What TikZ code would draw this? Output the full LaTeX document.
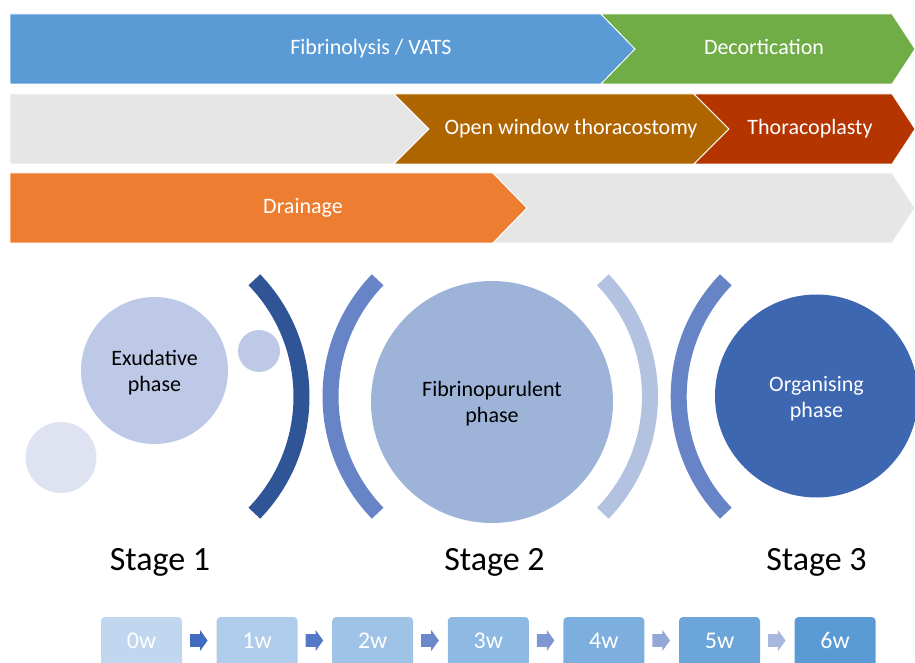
\documentclass[tikz,border=0pt]{standalone}
\usepackage{fontspec}
\setmainfont{Carlito}
\definecolor{cblue}{HTML}{5B9BD5}
\definecolor{cgreen}{HTML}{70AD47}
\definecolor{cgray}{HTML}{E6E6E6}
\definecolor{cbrown}{HTML}{AE6500}
\definecolor{cred}{HTML}{B43500}
\definecolor{corange}{HTML}{ED7D31}
\definecolor{ccirA}{HTML}{DEE2F1}
\definecolor{ccirB}{HTML}{BDC9E6}
\definecolor{ccirC}{HTML}{9DB3D8}
\definecolor{ccirD}{HTML}{3E67B1}
\definecolor{carcA}{HTML}{2F5597}
\definecolor{carcB}{HTML}{6785C6}
\definecolor{carcC}{HTML}{B4C2E2}
\definecolor{boxlo}{HTML}{C0D7EF}
\definecolor{boxhi}{HTML}{5B9BD5}
\definecolor{ar0}{HTML}{416BBF}
\definecolor{ar1}{HTML}{5679C7}
\definecolor{ar2}{HTML}{6B88CB}
\definecolor{ar3}{HTML}{7F97D1}
\definecolor{ar4}{HTML}{93A7D8}
\definecolor{ar5}{HTML}{A8B7DE}
\newcommand\fbar{\fontsize{22}{26}\selectfont}
\newcommand\fstage{\fontsize{34}{40}\selectfont}
\newcommand\fwk{\fontsize{24}{28}\selectfont}
\begin{document}
\begin{tikzpicture}[x=1pt,y=1pt,
  barshape/.style={draw=white,line width=0.8pt},
  bartext/.style={text=white,font=\fbar,inner sep=0pt,text height=15pt,text depth=5pt},
  phasetext/.style={font=\fbar,align=center,inner sep=0pt},
  arcline/.style={line width=16pt,line cap=butt},
  stagetext/.style={font=\fstage,anchor=base,inner sep=0pt},
  wktext/.style={font=\fwk,text=white,inner sep=0pt}]
\useasboundingbox (0,0) rectangle (915,662);
\clip (0,0) rectangle (915,662);
% ---- row 1
\fill[cblue,barshape] (10,648) -- (601,648) -- (635,613) -- (601,578) -- (10,578) -- cycle;
\fill[cgreen,barshape] (601,648) -- (892,648) -- (915,613) -- (892,578) -- (601,578) -- (635,613) -- cycle;
\node[bartext] (fib) at (371,612) {Fibrinolysis / VATS};
\node[bartext] (dec) at (764,612) {Decortication};
% ---- row 2
\fill[cgray,barshape] (10,568) -- (394,568) -- (429,533) -- (394,498) -- (10,498) -- cycle;
\fill[cbrown,barshape] (394,568) -- (694,568) -- (729,533) -- (694,498) -- (394,498) -- (429,533) -- cycle;
\fill[cred,barshape] (694,568) -- (892,568) -- (915,533) -- (892,498) -- (694,498) -- (729,533) -- cycle;
\node[bartext] (owt) at (571,532) {Open window thoracostomy};
\node[bartext] (thp) at (810,532) {Thoracoplasty};
% ---- row 3
\fill[corange,barshape] (10,489) -- (493,489) -- (527,454) -- (493,419) -- (10,419) -- cycle;
\fill[cgray,barshape] (493,489) -- (892,489) -- (915,454) -- (892,419) -- (493,419) -- (527,454) -- cycle;
\node[bartext] (drn) at (303,453) {Drainage};
% ---- circles
\fill[ccirA] (61,204.5) circle[radius=35.5];
\fill[ccirB] (154.5,291.5) circle[radius=73.5];
\fill[ccirB] (259,311) circle[radius=21];
\fill[ccirC] (492,260) circle[radius=121];
\fill[ccirD] (816.5,266) circle[radius=101.5];
\node[phasetext] (exu) at (154.5,289.5) {Exudative\\phase};
\node[phasetext] (fpp) at (492,258) {Fibrinopurulent\\phase};
\node[phasetext,text=white] (org) at (816.5,263.5) {Organising\\phase};
% ---- arcs
\draw[arcline,carcA] ([shift={(-44:168)}]133.5,265.5) arc[start angle=-44,end angle=44,radius=168];
\draw[arcline,carcB] ([shift={(136:168)}]498.5,265.5) arc[start angle=136,end angle=224,radius=168];
\draw[arcline,carcC] ([shift={(-44:168)}]482,265.5) arc[start angle=-44,end angle=44,radius=168];
\draw[arcline,carcB] ([shift={(136:168)}]846.7,265.5) arc[start angle=136,end angle=224,radius=168];
% ---- stages
\node[stagetext] (s1) at (160,92) {Stage 1};
\node[stagetext] (s2) at (494.5,92) {Stage 2};
\node[stagetext] (s3) at (816.5,92) {Stage 3};
% ---- timeline
\foreach \i in {0,...,6}{
  \pgfmathsetmacro\xl{101+115.6*\i}
  \pgfmathtruncatemacro\p{round(100*\i/6)}
  \fill[boxhi!\p!boxlo,rounded corners=4] (\xl,-10) rectangle ++(81,55);
  \node[wktext] (w\i) at (\xl+40.5,21.5) {\i w};
}
\foreach \i in {0,...,5}{
  \pgfmathsetmacro\xs{190+115.6*\i}
  \fill[ar\i] (\xs,15.2) -- ++(10,0) -- ++(0,-4.2) -- ++(7.6,10.5) -- ++(-7.6,10.5) -- ++(0,-4.2) -- ++(-10,0) -- cycle;
}
\end{tikzpicture}
\end{document}
